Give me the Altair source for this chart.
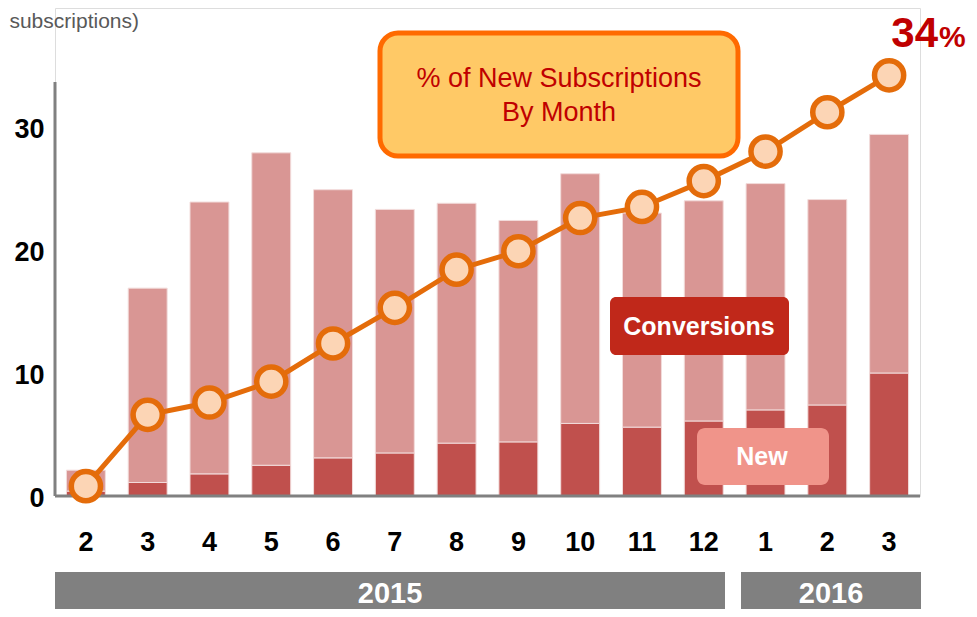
import altair as alt
import pandas as pd

# ---- data ----
months = ["2", "3", "4", "5", "6", "7", "8", "9", "10", "11", "12", "1", "2", "3"]
years = ["2015"] * 11 + ["2016"] * 3
new_vals = [0.4, 1.1, 1.8, 2.5, 3.1, 3.5, 4.3, 4.4, 5.9, 5.6, 6.1, 7.0, 7.4, 10.0]
conv_vals = [1.7, 15.8, 22.1, 25.4, 21.8, 19.8, 19.5, 18.0, 20.3, 17.4, 17.9, 18.4, 16.7, 19.4]
pct_vals = [0.8, 6.6, 7.6, 9.3, 12.4, 15.3, 18.4, 19.9, 22.6, 23.5, 25.6, 28.0, 31.2, 34.2]
y_ticks = [0, 10, 20, 30]
series_names = ["New", "Conversions"]
series_colors = ["#C0504D", "#D99694"]

keys = [f"{y}-{m}" for y, m in zip(years, months)]
n = len(keys)

bars_df = pd.DataFrame({
    "key": keys * 2,
    "type": ["New"] * n + ["Conversions"] * n,
    "value": new_vals + conv_vals,
    "ord": [0] * n + [1] * n,
})
line_df = pd.DataFrame({"key": keys, "pct": pct_vals})
one = pd.DataFrame({"a": [0]})

W, H = 865, 488
YMAX = H / 12.3
FONT = "Liberation Sans"
ORANGE = "#E46C0A"
RED = "#C00000"
GRAY = "#808080"

x_enc = alt.X(
    "key:N", sort=keys,
    scale=alt.Scale(paddingInner=0.37, paddingOuter=0.185),
    axis=alt.Axis(title=None, labelExpr="split(datum.label, '-')[1]", labelAngle=0,
                  labelFontSize=27, labelFontWeight="bold", labelColor="black",
                  labelPadding=33, ticks=False, domain=False, labelFont=FONT,
                  labelOverlap=False),
)
y_scale = alt.Scale(domain=[0, YMAX], nice=False, zero=True)

bars = alt.Chart(bars_df).mark_bar(stroke="#F2DCDB", strokeWidth=1).encode(
    x=x_enc,
    y=alt.Y("value:Q", stack="zero", scale=y_scale,
            axis=alt.Axis(values=y_ticks, title=None, grid=False, ticks=False, domain=False,
                          labelFontSize=27, labelFontWeight="bold", labelColor="black",
                          labelPadding=11, labelFont=FONT, labelFlush=False,
                          labelOverlap=False, labelOffset=2)),
    color=alt.Color("type:N", scale=alt.Scale(domain=series_names, range=series_colors),
                    legend=None),
    order=alt.Order("ord:Q"),
)

yaxis_line = alt.Chart(one).mark_rule(color=GRAY, strokeWidth=3).encode(
    x=alt.value(0), y=alt.datum(0), y2=alt.datum(33.66))
base_line = alt.Chart(one).mark_rule(color=GRAY, strokeWidth=3).encode(
    x=alt.value(0), x2=alt.value(W), y=alt.datum(0))

line = alt.Chart(line_df).mark_line(color=ORANGE, strokeWidth=5).encode(
    x=x_enc, y=alt.Y("pct:Q", scale=y_scale))
points = alt.Chart(line_df).mark_point(
    shape="circle", size=850, fill="#FCD5B5", stroke=ORANGE, strokeWidth=5.5,
    opacity=1, fillOpacity=1).encode(x=x_enc, y=alt.Y("pct:Q", scale=y_scale))


def box(x1, x2, y1, y2, fill, radius, stroke=None, sw=0):
    kw = dict(fill=fill, cornerRadius=radius)
    if stroke:
        kw.update(stroke=stroke, strokeWidth=sw)
    return alt.Chart(one).mark_rect(**kw).encode(
        x=alt.value(x1), x2=alt.value(x2), y=alt.value(y1), y2=alt.value(y2))


def label(txt, xx, yy, size, color, weight="normal", align="center", baseline="middle"):
    return alt.Chart(one).mark_text(
        text=txt, font=FONT, fontSize=size, fontWeight=weight, color=color,
        align=align, baseline=baseline).encode(x=alt.value(xx), y=alt.value(yy))


title_box = box(325, 683, 25, 148, "#FFC966", 18, stroke="#FF6A00", sw=5)
title1 = label("% of New Subscriptions", 504, 71, 27, RED)
title2 = label("By Month", 504, 105, 27, RED)

conv_box = box(555, 734, 289, 347, "#C0281A", 6)
conv_txt = label("Conversions", 644, 319, 25, "white", "bold")
new_box = box(642, 774, 420, 477, "#F0948A", 8)
new_txt = label("New", 707, 449, 25, "white", "bold")

pct34 = label("34", 883, 39, 42, RED, "bold", align="right", baseline="alphabetic")
pctsign = label("%", 884, 39, 30, RED, "bold", align="left", baseline="alphabetic")

unit_txt = label("subscriptions)", 84, 20, 21, "#595959", align="right", baseline="alphabetic")

y2015 = box(0, 670, 564, 640, GRAY, 0)
y2016 = box(686, 866, 564, 640, GRAY, 0)
t2015 = label("2015", 335, 586, 29, "white", "bold")
t2016 = label("2016", 776, 586, 29, "white", "bold")

chart = alt.layer(
    bars, yaxis_line, base_line, line, points,
    title_box, title1, title2, conv_box, conv_txt, new_box, new_txt,
    pct34, pctsign, unit_txt, y2015, y2016, t2015, t2016,
).properties(
    width=W, height=H,
    autosize=alt.AutoSizeParams(type="none"),
    padding={"left": 47, "top": 0, "right": 49, "bottom": 113},
).configure_view(stroke=None).configure(font=FONT)

chart.save("out.html", embed_options={"renderer": "svg", "actions": False})
